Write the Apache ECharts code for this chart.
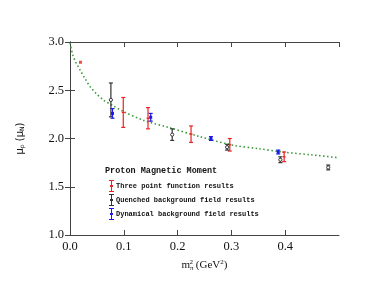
<!DOCTYPE html>
<html><head><meta charset="utf-8">
<script src="https://cdn.jsdelivr.net/npm/echarts@6/dist/echarts.min.js"></script>
<style>html,body{margin:0;padding:0;background:#fff}#c{width:376px;height:291px}</style>
</head><body><div id="c"></div>
<script>
var threeX = [0.099, 0.145, 0.225, 0.297, 0.398];
var threeY = [2.27, 2.21, 2.045, 1.935, 1.81];
var threeErr = [0.155, 0.11, 0.085, 0.065, 0.05];
var quenchX = [0.076, 0.190, 0.292, 0.391, 0.480];
var quenchY = [2.40, 2.04, 1.91, 1.78, 1.70];
var quenchErr = [0.175, 0.06, 0.03, 0.03, 0.025];
var dynX = [0.079, 0.150, 0.262, 0.387];
var dynY = [2.26, 2.22, 2.00, 1.86];
var dynErr = [0.05, 0.04, 0.02, 0.02];
var expX = [0.0195];
var expY = [2.79];
var curveX = [0, 0.005, 0.01, 0.0186, 0.028, 0.037, 0.048, 0.062, 0.08, 0.099, 0.136, 0.186, 0.241, 0.303, 0.35, 0.395, 0.45, 0.5];
var curveY = [2.99, 2.87, 2.80, 2.71, 2.62, 2.54, 2.47, 2.40, 2.34, 2.28, 2.19, 2.11, 2.02, 1.93, 1.895, 1.86, 1.83, 1.80];
var xTicks = [0.0, 0.1, 0.2, 0.3, 0.4];
var yTicks = [1.0, 1.5, 2.0, 2.5, 3.0];
var seriesNames = ['Three point function results', 'Quenched background field results', 'Dynamical background field results'];
var colors = ['#ee2020', '#333333', '#1a1aee'];

function zip(xs, ys, es) { return xs.map(function (x, i) { return [x, ys[i], es[i]]; }); }

function errRender(color, marker) {
  return function (params, api) {
    var x = api.value(0), y = api.value(1), e = api.value(2);
    var top = api.coord([x, y + e]), bot = api.coord([x, y - e]), mid = api.coord([x, y]);
    var cw = 2;
    var st = { stroke: color, lineWidth: 1.2 };
    var ch = [
      { type: 'line', shape: { x1: top[0], y1: top[1], x2: bot[0], y2: bot[1] }, style: st },
      { type: 'line', shape: { x1: top[0] - cw, y1: top[1], x2: top[0] + cw, y2: top[1] }, style: st },
      { type: 'line', shape: { x1: bot[0] - cw, y1: bot[1], x2: bot[0] + cw, y2: bot[1] }, style: st }
    ];
    if (marker === 'square') {
      ch.push({ type: 'rect', shape: { x: mid[0] - 1.5, y: mid[1] - 1.5, width: 3, height: 3 }, style: { fill: color } });
    } else if (marker === 'circle') {
      ch.push({ type: 'circle', shape: { cx: mid[0], cy: mid[1], r: 1.6 }, style: { fill: '#fff', stroke: color, lineWidth: 1 } });
    } else {
      ch.push({ type: 'line', shape: { x1: mid[0] - 1.5, y1: mid[1], x2: mid[0] + 1.5, y2: mid[1] }, style: st });
    }
    return { type: 'group', children: ch };
  };
}

var iconPath = 'path://M0,0h5v1h-5zM2,0h1v12h-1zM0,11h5v1h-5zM1,5h3v2h-3z';
var axisCol = '#444';
var lblFont = { fontFamily: 'Liberation Serif', fontSize: 12.5, color: '#111' };

var chart = echarts.init(document.getElementById('c'));
chart.setOption({
  animation: false,
  title: { text: 'Proton Magnetic Moment', left: 100, top: 161,
    textStyle: { fontFamily: 'Liberation Mono', fontWeight: 'bold', fontSize: 8.5, color: '#111' } },
  legend: {
    orient: 'vertical', left: 104, top: 175, itemGap: 2, itemWidth: 5, itemHeight: 12,
    data: seriesNames.map(function (n) { return { name: n, icon: iconPath }; }),
    textStyle: { fontFamily: 'Liberation Mono', fontWeight: 'bold', fontSize: 7, color: '#111', padding: [0, 0, 0, -3] }
  },
  grid: { left: 70, right: 37, top: 42, bottom: 56 },
  xAxis: [{
    type: 'value', min: 0, max: 0.5, interval: 0.1,
    axisLine: { lineStyle: { color: axisCol, width: 1 } },
    axisTick: { inside: true, length: 5, lineStyle: { color: axisCol } },
    splitLine: { show: false },
    axisLabel: Object.assign({ showMaxLabel: false, margin: 5, formatter: function (v) { return v.toFixed(1); } }, lblFont),
    name: 'm{sub|π}{sup|2} (GeV{sup2|2})', nameLocation: 'middle', nameGap: 24,
    nameTextStyle: { fontFamily: 'Liberation Serif', fontSize: 11, color: '#111',
      rich: { sub: { fontSize: 7, fontFamily: 'Liberation Serif', verticalAlign: 'bottom', padding: [4, 0, 0, 0] },
              sup: { fontSize: 7, fontFamily: 'Liberation Serif', verticalAlign: 'top', padding: [0, 0, 6, -4] },
              sup2: { fontSize: 7, fontFamily: 'Liberation Serif', verticalAlign: 'top', padding: [0, 0, 6, 0] } } }
  }, {
    type: 'value', min: 0, max: 0.5, interval: 0.1, position: 'top',
    axisLine: { lineStyle: { color: axisCol, width: 1 } },
    axisTick: { inside: true, length: 5, lineStyle: { color: axisCol } },
    axisLabel: { show: false }, splitLine: { show: false }
  }],
  yAxis: [{
    type: 'value', min: 1, max: 3, interval: 0.5,
    axisLine: { show: true, lineStyle: { color: axisCol, width: 1 } },
    axisTick: { show: true, inside: true, length: 5, lineStyle: { color: axisCol } },
    splitLine: { show: false },
    axisLabel: Object.assign({ margin: 6, formatter: function (v) { return v.toFixed(1); } }, lblFont),
    name: 'μ{sub|p} (μ{sub|N})', nameLocation: 'middle', nameRotate: 90, nameGap: 45,
    nameTextStyle: { fontFamily: 'DejaVu Sans', fontSize: 10, color: '#111',
      rich: { sub: { fontSize: 6, fontFamily: 'DejaVu Sans', verticalAlign: 'bottom', padding: [4, 0, 0, 0] } } }
  }, {
    type: 'value', min: 1, max: 3, interval: 0.5, position: 'right',
    axisLine: { show: true, lineStyle: { color: axisCol, width: 1 } },
    axisTick: { show: true, inside: true, length: 5, lineStyle: { color: axisCol } },
    axisLabel: { show: false }, splitLine: { show: false }
  }],
  series: [
    { type: 'line', name: 'fit', data: curveX.map(function (x, i) { return [x, curveY[i]]; }),
      smooth: 0.3, showSymbol: false, symbol: 'none', z: 1,
      lineStyle: { color: '#3a9a3a', width: 1.6, type: [1.5, 2.5] } },
    { type: 'custom', name: seriesNames[0], data: zip(threeX, threeY, threeErr), itemStyle: { color: colors[0] },
      renderItem: errRender(colors[0], 'dash'), z: 3 },
    { type: 'custom', name: seriesNames[1], data: zip(quenchX, quenchY, quenchErr), itemStyle: { color: colors[1] },
      renderItem: errRender(colors[1], 'circle'), z: 3 },
    { type: 'custom', name: seriesNames[2], data: zip(dynX, dynY, dynErr), itemStyle: { color: colors[2] },
      renderItem: errRender(colors[2], 'square'), z: 3 },
    { type: 'scatter', name: 'exp', data: expX.map(function (x, i) { return [x, expY[i]]; }),
      symbol: 'rect', symbolSize: 3, itemStyle: { color: '#ee2020' }, z: 3 }
  ]
});
</script></body></html>
